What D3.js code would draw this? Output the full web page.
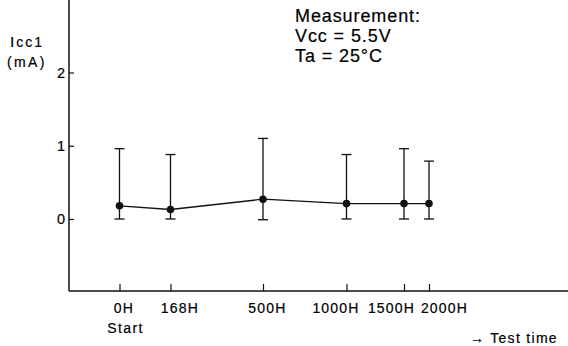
<!DOCTYPE html>
<html>
<head>
<meta charset="utf-8">
<script src="https://cdn.jsdelivr.net/npm/d3@7"></script>
<style>
  body { margin: 0; background: #fff; }
  svg { display: block; font-family: "Liberation Sans", Arial, sans-serif; }
  svg text { fill: #000; stroke: #000; stroke-width: 0.2px; }
</style>
</head>
<body>
<svg width="568" height="346"></svg>
<script>
// test points (hours) and Icc1 readings in mA
const hours = [0, 168, 500, 1000, 1500, 2000]
const tickLabels = ["0H", "168H", "500H", "1000H", "1500H", "2000H"]
const meanVals = [0.18, 0.13, 0.27, 0.21, 0.21, 0.21]
const maxVals = [0.96, 0.88, 1.1, 0.88, 0.96, 0.79]
const minVals = [0, 0, -0.01, 0, 0, 0]
const yTicks = [0, 1, 2]

const svg = d3.select("svg")
const W = 568
const left = 69, bottom = 291

// x axis is not to scale in the original, so map hours piecewise
const xScale = d3.scaleLinear()
  .domain(hours)
  .range([119.5, 170.5, 263, 346.5, 404, 429])
// labels are nudged sideways so the crowded ones don't collide
const labelShift = [4, 9, 4, -11, -13, 15]

const yScale = d3.scaleLinear().domain([0, 2]).range([219, 72.5])

// frame lines
svg.append("line")
  .attr("x1", left).attr("x2", left).attr("y1", 0).attr("y2", bottom)
  .attr("stroke", "#111").attr("stroke-width", 1.5)
svg.append("line")
  .attr("x1", left).attr("x2", W).attr("y1", bottom).attr("y2", bottom)
  .attr("stroke", "#111").attr("stroke-width", 1.5)

// y axis ticks point inward
const yAxis = svg.append("g")
  .attr("transform", `translate(${left},0)`)
  .call(d3.axisLeft(yScale).tickValues(yTicks).tickFormat(d3.format("d"))
    .tickSizeInner(-5).tickSizeOuter(0).tickPadding(4))
yAxis.select(".domain").remove()
yAxis.selectAll("line").attr("stroke", "#111").attr("stroke-width", 1.2)
yAxis.selectAll("text")
  .attr("font-size", 14.5)
  .attr("font-family", "Liberation Sans, Arial, sans-serif")

// x axis ticks point up
const xAxis = svg.append("g")
  .attr("transform", `translate(0,${bottom})`)
  .call(d3.axisBottom(xScale).tickValues(hours)
    .tickFormat((d, i) => tickLabels[i])
    .tickSizeInner(-7).tickSizeOuter(0).tickPadding(12))
xAxis.select(".domain").remove()
xAxis.selectAll("line").attr("stroke", "#111").attr("stroke-width", 1.2)
xAxis.selectAll("text")
  .attr("font-size", 14)
  .attr("letter-spacing", 1.2)
  .attr("dx", (d, i) => labelShift[i])
  .attr("font-family", "Liberation Sans, Arial, sans-serif")

svg.append("text")
  .attr("x", xScale(0) + 6).attr("y", 333)
  .attr("text-anchor", "middle").attr("font-size", 14).attr("letter-spacing", 1.4)
  .text("Start")

// error bars
const pts = hours.map((h, i) => ({ h, m: meanVals[i], hi: maxVals[i], lo: minVals[i] }))
const eb = svg.append("g").attr("stroke", "#111").attr("stroke-width", 1.3)
eb.selectAll(".stem").data(pts).enter().append("line")
  .attr("x1", d => xScale(d.h)).attr("x2", d => xScale(d.h))
  .attr("y1", d => yScale(d.hi)).attr("y2", d => yScale(d.lo))
eb.selectAll(".capT").data(pts).enter().append("line")
  .attr("x1", d => xScale(d.h) - 5).attr("x2", d => xScale(d.h) + 5)
  .attr("y1", d => yScale(d.hi)).attr("y2", d => yScale(d.hi))
eb.selectAll(".capB").data(pts).enter().append("line")
  .attr("x1", d => xScale(d.h) - 5).attr("x2", d => xScale(d.h) + 5)
  .attr("y1", d => yScale(d.lo)).attr("y2", d => yScale(d.lo))

// mean line and dots
svg.append("path")
  .datum(pts)
  .attr("fill", "none").attr("stroke", "#111").attr("stroke-width", 1.3)
  .attr("d", d3.line().x(d => xScale(d.h)).y(d => yScale(d.m)))
svg.selectAll(".dot").data(pts).enter().append("circle")
  .attr("cx", d => xScale(d.h)).attr("cy", d => yScale(d.m))
  .attr("r", 3.8).attr("fill", "#111")

// y axis title
const yt = svg.append("text")
  .attr("x", 10).attr("y", 47).attr("font-size", 14.5).attr("letter-spacing", 2)
yt.append("tspan").attr("font-size", 15.5).text("I")
yt.append("tspan").attr("font-size", 14).text("cc1")
svg.append("text")
  .attr("x", 7).attr("y", 67).attr("font-size", 14).attr("letter-spacing", 2.4)
  .text("(mA)")

// measurement conditions
const cond = ["Measurement:", "Vcc = 5.5V", "Ta = 25°C"]
svg.append("g").selectAll("text").data(cond).enter().append("text")
  .attr("x", 295).attr("y", (d, i) => 22 + i * 20)
  .attr("font-size", 18).attr("letter-spacing", 0.9)
  .text(d => d)

svg.append("text")
  .attr("x", 470).attr("y", 343).attr("font-size", 14).attr("letter-spacing", 1.3)
  .text("→ Test time")
</script>
</body>
</html>
